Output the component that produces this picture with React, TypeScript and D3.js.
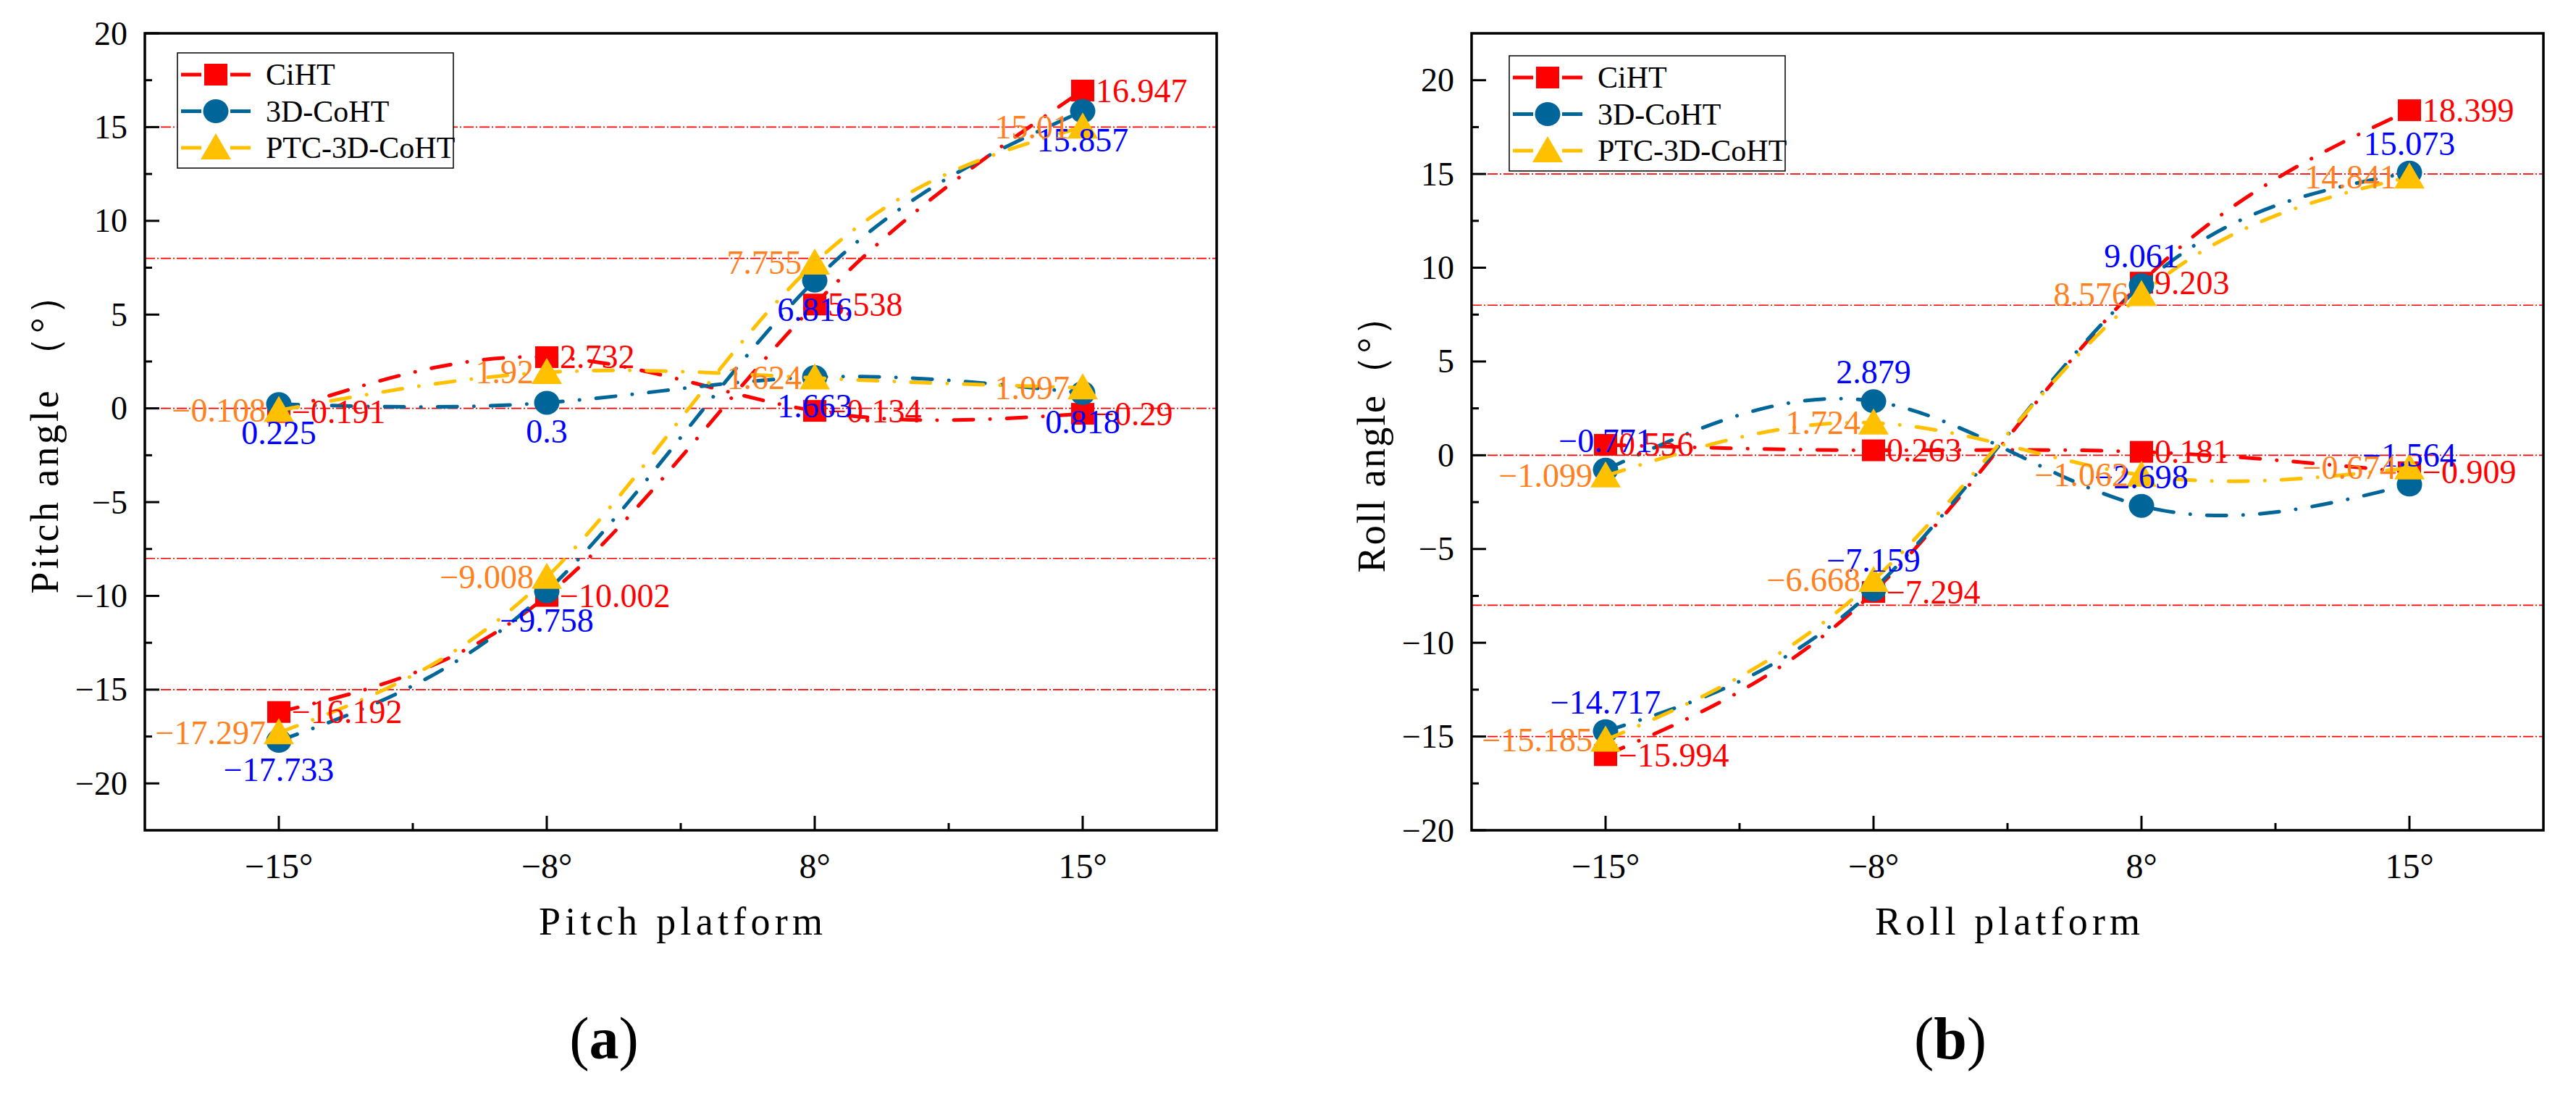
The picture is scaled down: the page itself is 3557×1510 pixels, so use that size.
import * as d3 from "d3";

// x categories (platform angle)
const platformTicks = ["−15°", "−8°", "8°", "15°"];

// (a) pitch platform: main response and cross-axis response
const pitchCiHT = [-16.192, -10.002, 5.538, 16.947];
const pitch3DCoHT = [-17.733, -9.758, 6.816, 15.857];
const pitchPTC = [-17.297, -9.008, 7.755, 15.01];
const pitchCiHTCross = [-0.191, 2.732, -0.134, -0.29];
const pitch3DCoHTCross = [0.225, 0.3, 1.663, 0.818];
const pitchPTCCross = [-0.108, 1.92, 1.624, 1.097];

// (b) roll platform
const rollCiHT = [-15.994, -7.294, 9.203, 18.399];
const roll3DCoHT = [-14.717, -7.159, 9.061, 15.073];
const rollPTC = [-15.185, -6.668, 8.576, 14.841];
const rollCiHTCross = [0.556, 0.263, 0.181, -0.909];
const roll3DCoHTCross = [-0.771, 2.879, -2.698, -1.564];
const rollPTCCross = [-1.099, 1.724, -1.062, -0.674];

const refLines = [-15, -8, 0, 8, 15];
const legendNames = ["CiHT", "3D-CoHT", "PTC-3D-CoHT"];

const FONT = "'Liberation Serif', 'Times New Roman', serif";
const FRAME_W = 1480;
const TOP = 46;
const BOTTOM = 1146;

const styles = [
    { color: "#FF0000", text: "#FF0000", shape: "square" },
    { color: "#006699", text: "#0000FF", shape: "circle" },
    { color: "#FFC000", text: "#FF8020", shape: "triangle" },
];

const fmt = (v: number) => String(v).replace("-", "−");

const Marker = ({ shape, x, y, color }: { shape: string; x: number; y: number; color: string }) => {
    if (shape === "square") return <rect x={x - 16} y={y - 15} width={32} height={30} fill={color} />;
    if (shape === "circle") return <ellipse cx={x} cy={y} rx={17.5} ry={16.5} fill={color} />;
    return <path d={`M${x},${y - 20}L${x + 21},${y + 16}L${x - 21},${y + 16}Z`} fill={color} />;
};

type PanelProps = {
    x0: number;
    yDomain: [number, number];
    series: number[][][];
    yLabel: string;
    yLabelLen: number;
    xLabel: string;
    xLabelLen: number;
    tag: string;
    tagX: number;
    legendOff: [number, number];
    blueDy: number;
};

const Panel = ({ x0, yDomain, series, yLabel, yLabelLen, xLabel, xLabelLen, tag, tagX, legendOff, blueDy }: PanelProps) => {
    const x = d3.scaleLinear().domain([-0.5, 3.5]).range([x0, x0 + FRAME_W]);
    const y = d3.scaleLinear().domain(yDomain).range([BOTTOM, TOP]);
    const line = d3
        .line<number>()
        .x((_, i) => x(i))
        .y((d) => y(d))
        .curve(d3.curveNatural);

    const majors = d3.range(-20, 20.01, 5);
    const minors = d3.range(-22.5, 22.51, 5).filter((v) => v > yDomain[0] && v < yDomain[1]);
    const lx = x0 + legendOff[0];
    const ly = TOP + legendOff[1];

    return (
        <g fontFamily={FONT}>
            {/* reference lines */}
            {refLines.map((r) => (
                <line key={r} x1={x0} x2={x0 + FRAME_W} y1={y(r)} y2={y(r)} stroke="#FF0000" strokeWidth={1.6} strokeDasharray="14 3 2 3" />
            ))}

            {/* legend box (under data) */}
            <rect x={lx} y={ly} width={381} height={159} fill="#fff" stroke="#000" strokeWidth={1.5} />
            {legendNames.map((n, i) => {
                const cy = ly + 30 + i * 50.5;
                return (
                    <g key={n}>
                        <line x1={lx + 5} x2={lx + 101} y1={cy} y2={cy} stroke={styles[i].color} strokeWidth={5} strokeDasharray="28 40 28" />
                        <Marker shape={styles[i].shape} x={lx + 53} y={cy} color={styles[i].color} />
                        <text x={lx + 122} y={cy} dominantBaseline="central" fontSize={42} fill="#000">
                            {n}
                        </text>
                    </g>
                );
            })}

            {/* series lines + markers */}
            {series.map((pair, s) =>
                pair.map((vals, k) => (
                    <g key={`${s}-${k}`}>
                        <path
                            d={line(vals)!}
                            fill="none"
                            stroke={styles[s].color}
                            strokeWidth={5}
                            strokeLinecap="round"
                            strokeDasharray="27 23 0.1 23"
                        />
                        {vals.map((v, i) => (
                            <Marker key={i} shape={styles[s].shape} x={x(i)} y={y(v)} color={styles[s].color} />
                        ))}
                    </g>
                ))
            )}

            {/* data labels */}
            {series.map((pair, s) =>
                pair.map((vals, k) =>
                    vals.map((v, i) => {
                        const px = x(i);
                        const py = y(v);
                        const props =
                            s === 0
                                ? { x: px + 18, y: py, textAnchor: "start" }
                                : s === 2
                                ? { x: px - 18, y: py, textAnchor: "end" }
                                : { x: px, y: py + blueDy, textAnchor: "middle" };
                        return (
                            <text key={`${s}-${k}-${i}`} {...props} dominantBaseline="central" fontSize={46} fill={styles[s].text}>
                                {fmt(v)}
                            </text>
                        );
                    })
                )
            )}

            {/* frame */}
            <rect x={x0} y={TOP} width={FRAME_W} height={BOTTOM - TOP} fill="none" stroke="#000" strokeWidth={3.5} />

            {/* y ticks */}
            {majors.map((t) => (
                <g key={t}>
                    <line x1={x0} x2={x0 + 20} y1={y(t)} y2={y(t)} stroke="#000" strokeWidth={3} />
                    <text x={x0 - 24} y={y(t)} textAnchor="end" dominantBaseline="central" fontSize={46}>
                        {fmt(t)}
                    </text>
                </g>
            ))}
            {minors.map((t) => (
                <line key={t} x1={x0} x2={x0 + 10} y1={y(t)} y2={y(t)} stroke="#000" strokeWidth={3} />
            ))}

            {/* x ticks */}
            {platformTicks.map((lab, i) => (
                <g key={lab}>
                    <line x1={x(i)} x2={x(i)} y1={BOTTOM} y2={BOTTOM - 20} stroke="#000" strokeWidth={3} />
                    <text x={x(i)} y={1212} textAnchor="middle" fontSize={48}>
                        {lab}
                    </text>
                </g>
            ))}
            {[0.5, 1.5, 2.5].map((t) => (
                <line key={t} x1={x(t)} x2={x(t)} y1={BOTTOM} y2={BOTTOM - 10} stroke="#000" strokeWidth={3} />
            ))}

            {/* axis titles */}
            <text x={x0 + FRAME_W / 2} y={1290} textAnchor="middle" fontSize={54} textLength={xLabelLen}>
                {xLabel}
            </text>
            <text
                transform={`translate(${x0 - 138},600) rotate(-90)`}
                textAnchor="middle"
                dominantBaseline="central"
                fontSize={54}
                textLength={yLabelLen}
            >
                {yLabel}
            </text>

            {/* panel tag */}
            <text x={tagX} y={1461} textAnchor="middle" fontSize={82}>
                (<tspan fontWeight="bold">{tag}</tspan>)
            </text>
        </g>
    );
};

export default function App() {
    return (
        <svg width={3557} height={1510} style={{ position: "absolute", left: 0, top: 0, background: "#fff" }}>
            <rect width={3557} height={1510} fill="#fff" />
            <Panel
                x0={200}
                yDomain={[-22.5, 20]}
                series={[
                    [pitchCiHT, pitchCiHTCross],
                    [pitch3DCoHT, pitch3DCoHTCross],
                    [pitchPTC, pitchPTCCross],
                ]}
                yLabel="Pitch angle （°）"
                yLabelLen={439}
                xLabel="Pitch platform"
                xLabelLen={392}
                tag="a"
                tagX={834}
                legendOff={[45, 27]}
                blueDy={40}
            />
            <Panel
                x0={2032}
                yDomain={[-20, 22.5]}
                series={[
                    [rollCiHT, rollCiHTCross],
                    [roll3DCoHT, roll3DCoHTCross],
                    [rollPTC, rollPTCCross],
                ]}
                yLabel="Roll angle（°）"
                yLabelLen={381}
                xLabel="Roll platform"
                xLabelLen={366}
                tag="b"
                tagX={2693}
                legendOff={[52, 31]}
                blueDy={-40}
            />
        </svg>
    );
}
